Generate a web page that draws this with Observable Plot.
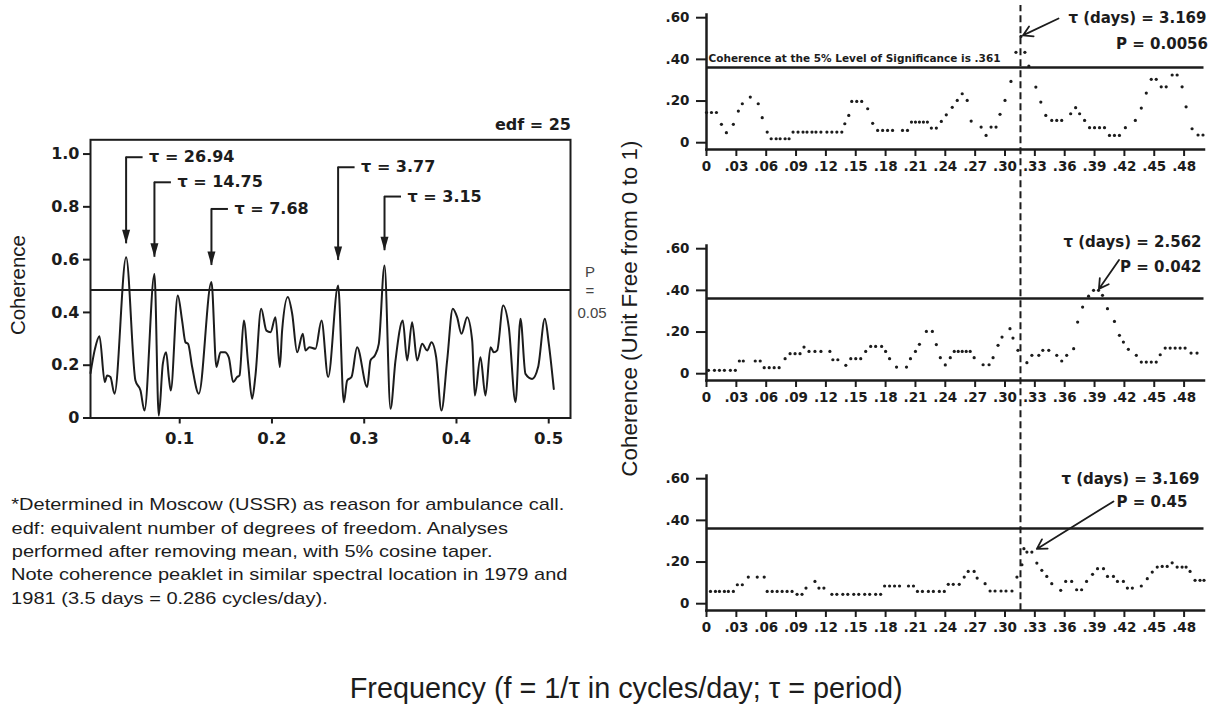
<!DOCTYPE html>
<html>
<head>
<meta charset="utf-8">
<script src="https://cdn.jsdelivr.net/npm/d3@7"></script>
<script src="https://cdn.jsdelivr.net/npm/@observablehq/plot@0.6"></script>
<style>
html, body { margin: 0; padding: 0; background: #fff; }
#root { position: relative; width: 1215px; height: 708px; overflow: hidden; background: #fff; }
#root svg { overflow: visible; }
</style>
</head>
<body>
<div id="root"></div>
<script>
// ---------------- DATA ----------------
// Left chart: coherence spectrum (edf = 25)
const leftFreq = [0.0033, 0.008, 0.013, 0.0188, 0.0213, 0.0249, 0.0293, 0.0419, 0.052, 0.0575,
  0.0618, 0.0726, 0.0773, 0.0817, 0.0853, 0.0882, 0.0903, 0.0979, 0.1026, 0.1062,
  0.1091, 0.1135, 0.1207, 0.1344, 0.1398, 0.1442, 0.1489, 0.1532, 0.1579, 0.1622,
  0.1648, 0.1695, 0.1742, 0.1785, 0.1821, 0.1883, 0.194, 0.1984, 0.2038, 0.2085,
  0.211, 0.2172, 0.2219, 0.2273, 0.2334, 0.2363, 0.2407, 0.2472, 0.2537, 0.2609,
  0.2717, 0.2779, 0.2815, 0.2862, 0.2923, 0.3032, 0.3068, 0.3115, 0.3158, 0.322,
  0.3285, 0.3339, 0.3418, 0.3465, 0.3519, 0.3574, 0.3628, 0.3682, 0.3729, 0.378,
  0.3837, 0.3899, 0.396, 0.4007, 0.4054, 0.4116, 0.417, 0.4199, 0.426, 0.4314,
  0.4369, 0.4405, 0.4441, 0.4506, 0.4567, 0.464, 0.4694, 0.4748, 0.482, 0.4885,
  0.4958, 0.5001, 0.5055];
const leftCoh = [0.17, 0.26, 0.31, 0.136, 0.161, 0.155, 0.092, 0.609, 0.142, 0.104,
  0.028, 0.546, 0.009, 0.205, 0.249, 0.155, 0.104, 0.464, 0.369, 0.287,
  0.281, 0.193, 0.092, 0.515, 0.193, 0.249, 0.249, 0.23, 0.136, 0.155,
  0.161, 0.369, 0.205, 0.073, 0.161, 0.414, 0.331, 0.325, 0.382, 0.193,
  0.331, 0.458, 0.395, 0.249, 0.319, 0.256, 0.268, 0.262, 0.369, 0.155,
  0.502, 0.06, 0.142, 0.155, 0.268, 0.117, 0.218, 0.237, 0.281, 0.578,
  0.035, 0.218, 0.369, 0.218, 0.363, 0.218, 0.281, 0.256, 0.287, 0.23,
  0.028, 0.218, 0.414, 0.382, 0.319, 0.382, 0.294, 0.085, 0.23, 0.085,
  0.268, 0.249, 0.256, 0.426, 0.344, 0.06, 0.376, 0.167, 0.148, 0.193,
  0.376, 0.281, 0.11];
const leftPLevel = 0.485;
const leftXTicks = [0.1, 0.2, 0.3, 0.4, 0.5];
const leftXTickLabels = ["0.1", "0.2", "0.3", "0.4", "0.5"];
const leftYTicks = [0, 0.2, 0.4, 0.6, 0.8, 1.0];
const leftYTickLabels = ["0", "0.2", "0.4", "0.6", "0.8", "1.0"];
const peakLabels = ["τ = 26.94", "τ = 14.75", "τ = 7.68", "τ = 3.77", "τ = 3.15"];
const peakFreq = [0.0419, 0.0726, 0.1344, 0.2717, 0.322];
const peakLabelLevel = [0.988, 0.893, 0.792, 0.95, 0.839];
const peakArrowTip = [0.66, 0.609, 0.578, 0.597, 0.634];

// Right panels: coherence estimates (dots)
const p1Freq = [0.000, 0.005, 0.010, 0.015, 0.020, 0.027, 0.032, 0.036, 0.044, 0.052,
  0.056, 0.061, 0.065, 0.070, 0.074, 0.079, 0.083, 0.087, 0.092, 0.097,
  0.101, 0.106, 0.110, 0.115, 0.121, 0.126, 0.131, 0.136, 0.139, 0.143,
  0.146, 0.151, 0.156, 0.162, 0.167, 0.172, 0.177, 0.182, 0.187, 0.197,
  0.202, 0.206, 0.210, 0.214, 0.218, 0.222, 0.226, 0.231, 0.236, 0.241,
  0.247, 0.252, 0.257, 0.262, 0.266, 0.276, 0.281, 0.286, 0.291, 0.295,
  0.300, 0.306, 0.311, 0.316, 0.320, 0.324, 0.331, 0.336, 0.341, 0.347,
  0.352, 0.357, 0.366, 0.371, 0.375, 0.380, 0.385, 0.390, 0.395, 0.400,
  0.405, 0.410, 0.415, 0.421, 0.431, 0.437, 0.442, 0.447, 0.452, 0.457,
  0.462, 0.468, 0.473, 0.478, 0.482, 0.488, 0.494, 0.499];
const p1Coh = [0.145, 0.145, 0.145, 0.088, 0.048, 0.088, 0.152, 0.187, 0.219, 0.187,
  0.120, 0.051, 0.019, 0.019, 0.019, 0.019, 0.019, 0.051, 0.051, 0.051,
  0.051, 0.051, 0.051, 0.051, 0.051, 0.051, 0.051, 0.051, 0.091, 0.131,
  0.198, 0.198, 0.198, 0.163, 0.093, 0.059, 0.059, 0.059, 0.059, 0.059,
  0.059, 0.099, 0.099, 0.099, 0.099, 0.099, 0.070, 0.070, 0.102, 0.134,
  0.170, 0.203, 0.235, 0.203, 0.104, 0.075, 0.035, 0.075, 0.075, 0.136,
  0.203, 0.294, 0.434, 0.510, 0.434, 0.368, 0.267, 0.195, 0.131, 0.107,
  0.107, 0.107, 0.139, 0.168, 0.139, 0.107, 0.072, 0.072, 0.072, 0.072,
  0.035, 0.035, 0.035, 0.072, 0.107, 0.166, 0.238, 0.304, 0.304, 0.268,
  0.268, 0.325, 0.325, 0.268, 0.172, 0.067, 0.037, 0.037];

const p2Freq = [0.002, 0.008, 0.013, 0.018, 0.024, 0.029, 0.033, 0.037, 0.049, 0.054,
  0.058, 0.063, 0.068, 0.073, 0.079, 0.084, 0.089, 0.094, 0.098, 0.103,
  0.109, 0.115, 0.124, 0.127, 0.132, 0.140, 0.145, 0.150, 0.155, 0.160,
  0.165, 0.170, 0.176, 0.180, 0.184, 0.191, 0.201, 0.205, 0.210, 0.214,
  0.221, 0.227, 0.231, 0.235, 0.240, 0.245, 0.249, 0.253, 0.257, 0.261,
  0.265, 0.269, 0.278, 0.284, 0.288, 0.293, 0.297, 0.305, 0.308, 0.313,
  0.322, 0.327, 0.334, 0.338, 0.344, 0.352, 0.357, 0.362, 0.369, 0.373,
  0.378, 0.384, 0.389, 0.394, 0.398, 0.403, 0.410, 0.415, 0.419, 0.424,
  0.432, 0.437, 0.442, 0.447, 0.452, 0.456, 0.461, 0.466, 0.471, 0.476,
  0.481, 0.487, 0.493];
const p2Coh = [0.016, 0.016, 0.016, 0.016, 0.016, 0.016, 0.061, 0.061, 0.061, 0.061,
  0.029, 0.029, 0.029, 0.029, 0.072, 0.096, 0.096, 0.096, 0.128, 0.107,
  0.107, 0.107, 0.107, 0.067, 0.067, 0.040, 0.072, 0.072, 0.072, 0.107,
  0.131, 0.131, 0.131, 0.107, 0.072, 0.032, 0.032, 0.072, 0.107, 0.141,
  0.203, 0.203, 0.140, 0.077, 0.042, 0.077, 0.107, 0.107, 0.107, 0.107,
  0.107, 0.077, 0.043, 0.043, 0.077, 0.136, 0.176, 0.216, 0.171, 0.112,
  0.053, 0.088, 0.088, 0.112, 0.112, 0.088, 0.061, 0.088, 0.120, 0.248,
  0.320, 0.372, 0.400, 0.400, 0.376, 0.312, 0.251, 0.184, 0.152, 0.117,
  0.088, 0.056, 0.056, 0.056, 0.056, 0.091, 0.123, 0.123, 0.123, 0.123,
  0.123, 0.099, 0.099];

const p3Freq = [0.004, 0.009, 0.013, 0.018, 0.022, 0.027, 0.031, 0.036, 0.042, 0.051,
  0.058, 0.061, 0.066, 0.071, 0.076, 0.081, 0.086, 0.091, 0.096, 0.100,
  0.109, 0.113, 0.118, 0.126, 0.131, 0.137, 0.142, 0.148, 0.153, 0.159,
  0.164, 0.170, 0.175, 0.179, 0.184, 0.189, 0.194, 0.203, 0.208, 0.212,
  0.217, 0.223, 0.228, 0.234, 0.239, 0.243, 0.248, 0.254, 0.259, 0.263,
  0.269, 0.272, 0.280, 0.285, 0.290, 0.296, 0.301, 0.307, 0.312, 0.317,
  0.319, 0.322, 0.327, 0.332, 0.337, 0.342, 0.347, 0.356, 0.361, 0.367,
  0.372, 0.377, 0.382, 0.388, 0.393, 0.399, 0.403, 0.409, 0.413, 0.419,
  0.423, 0.428, 0.437, 0.443, 0.448, 0.453, 0.458, 0.463, 0.468, 0.473,
  0.478, 0.482, 0.486, 0.491, 0.496, 0.500];
const p3Coh = [0.059, 0.059, 0.059, 0.059, 0.059, 0.059, 0.091, 0.091, 0.128, 0.128,
  0.128, 0.059, 0.059, 0.059, 0.059, 0.059, 0.059, 0.045, 0.045, 0.075,
  0.107, 0.075, 0.075, 0.045, 0.045, 0.045, 0.045, 0.045, 0.045, 0.045,
  0.045, 0.045, 0.045, 0.085, 0.085, 0.085, 0.085, 0.085, 0.085, 0.059,
  0.059, 0.059, 0.059, 0.059, 0.059, 0.093, 0.093, 0.093, 0.128, 0.155,
  0.155, 0.123, 0.096, 0.061, 0.061, 0.061, 0.061, 0.061, 0.128, 0.187,
  0.264, 0.248, 0.248, 0.195, 0.160, 0.131, 0.096, 0.064, 0.107, 0.107,
  0.067, 0.067, 0.107, 0.141, 0.168, 0.168, 0.131, 0.131, 0.107, 0.107,
  0.075, 0.075, 0.085, 0.120, 0.152, 0.176, 0.179, 0.179, 0.196, 0.176,
  0.176, 0.176, 0.155, 0.112, 0.112, 0.112];

const sigLevel = 0.361;
const markedPeriod = 3.169; // days -> dashed line at f = 1/τ
const rightXTicks = [0, 0.03, 0.06, 0.09, 0.12, 0.15, 0.18, 0.21, 0.24, 0.27, 0.30, 0.33, 0.36, 0.39, 0.42, 0.45, 0.48];
const rightXTickLabels = ["0", ".03", ".06", ".09", ".12", ".15", ".18", ".21", ".24", ".27", ".30", ".33", ".36", ".39", ".42", ".45", ".48"];
const rightYTicks = [0, 0.2, 0.4, 0.6];
const rightYTickLabels = ["0", ".20", ".40", ".60"];

const panelTau = ["τ (days) = 3.169", "τ (days) = 2.562", "τ (days) = 3.169"];
const panelP = ["P = 0.0056", "P = 0.042", "P = 0.45"];

const notes = [
  "*Determined in Moscow (USSR) as reason for ambulance call.",
  "edf: equivalent number of degrees of freedom. Analyses",
  "performed after removing mean, with 5% cosine taper.",
  "Note coherence peaklet in similar spectral location in 1979 and",
  "1981 (3.5 days = 0.286 cycles/day)."
];

// ---------------- DRAWING ----------------
const INK = "#1c1c1c";
const root = document.getElementById("root");
function place(svg, left, top) {
  svg.style.position = "absolute";
  svg.style.left = left + "px";
  svg.style.top = top + "px";
  svg.style.overflow = "visible";
  svg.style.maxWidth = "none";
  root.appendChild(svg);
}
function label(text, o) {
  const d = document.createElement("div");
  d.textContent = text;
  Object.assign(d.style, {
    position: "absolute", whiteSpace: "nowrap", left: "0px", top: "0px",
    fontFamily: o.family || "'Liberation Sans', Arial, sans-serif",
    fontSize: o.size + "px", fontWeight: o.weight || "normal",
    color: o.color || INK, lineHeight: "1.15"
  });
  root.appendChild(d);
  const r = d.getBoundingClientRect();
  const w = r.width, h = r.height;
  const k = o.fit ? o.fit / w : (o.scale || 1);
  let cx = o.x;
  if (o.anchor === "start") cx = o.x + w * k / 2;
  if (o.anchor === "end") cx = o.x - w * k / 2;
  d.style.left = (cx - w / 2) + "px";
  d.style.top = (o.y - h / 2) + "px";
  d.style.transformOrigin = "50% 50%";
  d.style.transform = `rotate(${o.rotate || 0}deg) scaleX(${k})`;
  return k;
}

// ---- Left chart ----
const leftData = leftFreq.map((f, i) => ({f, c: leftCoh[i]}));
const peaks = peakFreq.map((f, i) => ({f, label: peakLabelLevel[i], tip: peakArrowTip[i], text: peakLabels[i]}));
const leftPlot = Plot.plot({
  width: 600, height: 470,
  marginLeft: 90, marginRight: 30, marginTop: 139.3, marginBottom: 52.5,
  x: {domain: [0.0033, 0.5236]},
  y: {domain: [0, 1.054]},
  style: {background: "transparent", color: INK, fontFamily: "'DejaVu Sans', sans-serif", fontWeight: "bold", fontSize: "16px"},
  marks: [
    Plot.line(leftData, {x: "f", y: "c", curve: "monotone-x", stroke: INK, strokeWidth: 2}),
    Plot.ruleY([leftPLevel], {stroke: INK, strokeWidth: 2}),
    Plot.frame({stroke: INK, strokeWidth: 2}),
    Plot.axisX({ticks: leftXTicks, tickFormat: d => leftXTickLabels[leftXTicks.indexOf(d)], tickSize: 6, tickPadding: 8, fontSize: 16.5, fontWeight: "bold", label: null, strokeWidth: 2}),
    Plot.axisY({ticks: leftYTicks, tickFormat: d => leftYTickLabels[leftYTicks.indexOf(d)], tickSize: 7, tickPadding: 4, fontSize: 16, fontWeight: "bold", label: null, strokeWidth: 2}),
    Plot.ruleX(peaks, {x: "f", y1: "label", y2: "tip", stroke: INK, strokeWidth: 2}),
    Plot.vector(peaks, {x: "f", y: "tip", length: 14, rotate: 180, shape: "spike", anchor: "end", r: 4, fill: INK, stroke: "none"}),
    Plot.ruleY(peaks, {y: "label", x1: "f", x2: d => d.f + 0.0184, stroke: INK, strokeWidth: 2}),
    Plot.text(peaks, {x: "f", y: "label", text: "text", dx: 23, textAnchor: "start", fontSize: 16, fontWeight: "bold", fill: INK})
  ]
});
place(leftPlot, 0, 0);

// ---- Right panels ----
const markedFreq = 1 / markedPeriod;
function panel(cfg) {
  const data = cfg.freq.map((f, i) => ({f, c: cfg.coh[i]}));
  const marks = [
    Plot.frame({anchor: "left", stroke: INK, strokeWidth: 2.5}),
    Plot.frame({anchor: "bottom", stroke: INK, strokeWidth: 2.5}),
    Plot.axisY({ticks: rightYTicks, tickFormat: d => rightYTickLabels[rightYTicks.indexOf(d)], tickSize: 10, tickPadding: 7, fontSize: 13.5, fontWeight: "bold", label: null, strokeWidth: 2}),
    Plot.axisX({ticks: rightXTicks, tickFormat: d => rightXTickLabels[rightXTicks.indexOf(d)], tickSize: 7, tickPadding: 5, fontSize: 13.5, fontWeight: "bold", label: null, strokeWidth: 2}),
    Plot.ruleY([sigLevel], {stroke: INK, strokeWidth: 2.5}),
    Plot.ruleX([markedFreq], {y1: cfg.dashLo, y2: cfg.dashHi, stroke: INK, strokeWidth: 2, strokeDasharray: "7,4"}),
    Plot.dot(data, {x: "f", y: "c", r: 1.6, fill: INK, stroke: "none"}),
    Plot.text([cfg.tau], {x: cfg.tauX, y: cfg.tauY, text: d => d, textAnchor: "end", fontSize: 15, fontWeight: "bold", fill: INK}),
    Plot.text([cfg.p], {x: cfg.pX, y: cfg.pY, text: d => d, textAnchor: "end", fontSize: 15, fontWeight: "bold", fill: INK}),
    Plot.arrow([cfg.arrow], {x1: "x1", y1: "y1", x2: "x2", y2: "y2", stroke: INK, strokeWidth: 1.8, headLength: 9})
  ];
  if (cfg.extra) marks.push(cfg.extra);
  const svg = Plot.plot({
    width: 575, height: cfg.height,
    marginLeft: 66, marginRight: 11.5, marginTop: 14, marginBottom: cfg.height - 149,
    x: {domain: [0, 0.5], range: [66, 563.5]},
    y: {domain: [0, 0.6], range: [142.2, 17.2]},
    style: {background: "transparent", color: INK, fontFamily: "'DejaVu Sans', sans-serif", fontWeight: "bold", fontSize: "13.5px"},
    marks
  });
  place(svg, 640, cfg.top);
}

panel({
  top: 0, height: 231, freq: p1Freq, coh: p1Coh, dashLo: -0.427, dashHi: 0.658,
  tau: panelTau[0], tauX: 0.5025, tauY: 0.600, p: panelP[0], pX: 0.504, pY: 0.475,
  arrow: {x1: 0.3538, y1: 0.596, x2: 0.318, y2: 0.515},
  extra: Plot.text(["Coherence at the 5% Level of Significance is .361"], {x: 0.002, y: 0.402, text: d => d, textAnchor: "start", fontSize: 10.5, fontWeight: "bold", fill: INK})
});
panel({
  top: 231, height: 230, freq: p2Freq, coh: p2Coh, dashLo: -0.4225, dashHi: 0.682,
  tau: panelTau[1], tauX: 0.4975, tauY: 0.630, p: panelP[1], pX: 0.4975, pY: 0.51,
  arrow: {x1: 0.4146, y1: 0.546, x2: 0.3944, y2: 0.407}
});
panel({
  top: 461, height: 247, freq: p3Freq, coh: p3Coh, dashLo: -0.034, dashHi: 0.682,
  tau: panelTau[2], tauX: 0.4955, tauY: 0.600, p: panelP[2], pX: 0.4834, pY: 0.486,
  arrow: {x1: 0.409, y1: 0.491, x2: 0.332, y2: 0.263}
});

// ---- Text labels ----
label("edf = 25", {x: 571, y: 125, size: 16, weight: "bold", family: "'DejaVu Sans', sans-serif", anchor: "end"});
label("P", {x: 590, y: 272, size: 15, color: "#444"});
label("=", {x: 590, y: 291, size: 15, color: "#444"});
label("0.05", {x: 592, y: 313, size: 15, color: "#444"});
label("Coherence", {x: 18, y: 285, size: 21, rotate: -90, fit: 100});
label("Coherence (Unit Free from 0 to 1)", {x: 630, y: 309, size: 22, rotate: -90, fit: 336});
const noteY = [505, 528.3, 551.7, 575, 598.4];
const kNotes = label(notes[0], {x: 11.5, y: noteY[0], size: 17, anchor: "start", fit: 553});
notes.slice(1).forEach((t, i) => label(t, {x: 11.5, y: noteY[i + 1], size: 17, anchor: "start", scale: kNotes}));
label("Frequency (f = 1/τ in cycles/day; τ = period)", {x: 626.5, y: 689, size: 29, fit: 553});
</script>
</body>
</html>
